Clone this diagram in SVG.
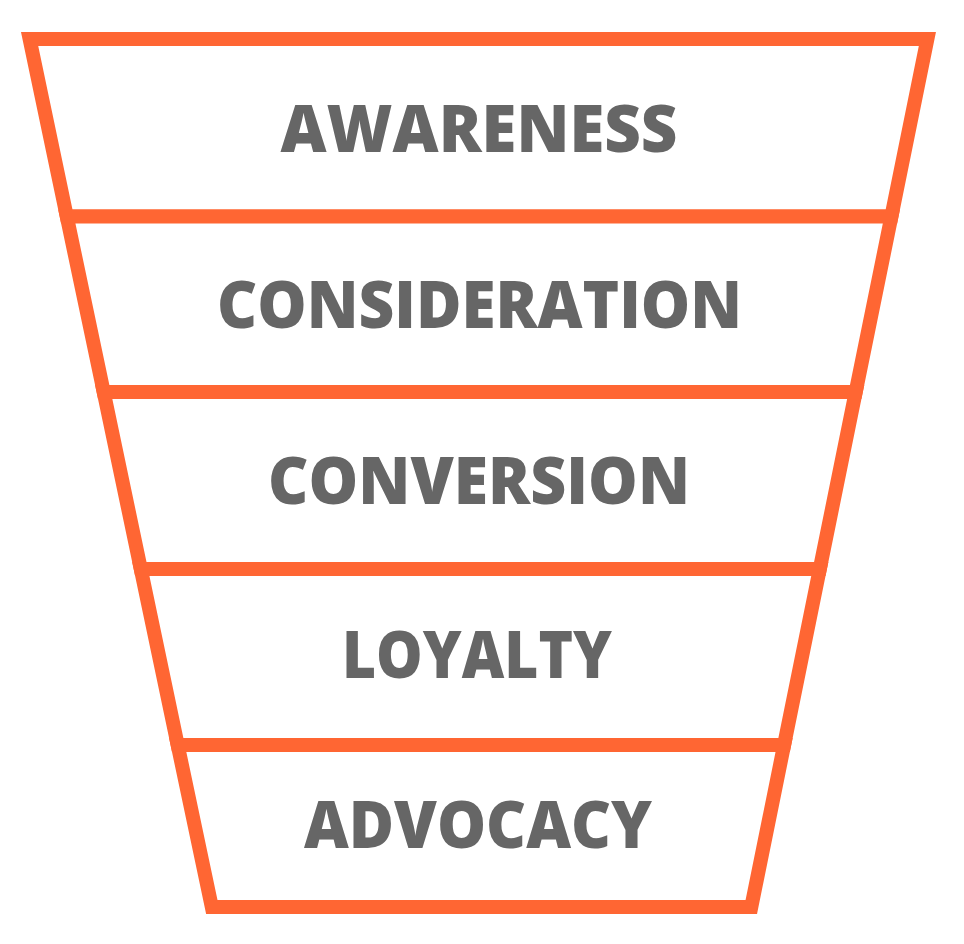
<svg xmlns="http://www.w3.org/2000/svg" width="964" height="944" viewBox="0 0 964 944">
  <style>
    .band { fill: #ffffff; stroke: #FF6633; stroke-width: 14; stroke-linejoin: miter; }
    .label { font-family: "Open Sans", "Liberation Sans", sans-serif; font-weight: 800; font-size: 66px; fill: #666666; text-anchor: middle; }
  </style>
  <rect width="964" height="944" fill="#ffffff"/>
  <g id="connectors"></g>
  <g id="awareness">
    <polygon class="band" points="29.6,39 927.4,39 891.4,216.5 66.8,216.5"/>
    <text class="label" x="479" y="152" textLength="397" lengthAdjust="spacingAndGlyphs">AWARENESS</text>
  </g>
  <g id="consideration">
    <polygon class="band" points="66.8,216.5 891.4,216.5 855.7,392 103.7,392"/>
    <text class="label" x="479.5" y="328" textLength="525" lengthAdjust="spacingAndGlyphs">CONSIDERATION</text>
  </g>
  <g id="conversion">
    <polygon class="band" points="103.7,392 855.7,392 819.8,569 140.8,569"/>
    <text class="label" x="479" y="504" textLength="422" lengthAdjust="spacingAndGlyphs">CONVERSION</text>
  </g>
  <g id="loyalty">
    <polygon class="band" points="140.8,569 819.8,569 784.1,745 177.7,745"/>
    <text class="label" x="477" y="678" textLength="270" lengthAdjust="spacingAndGlyphs">LOYALTY</text>
  </g>
  <g id="advocacy">
    <polygon class="band" points="177.7,745 784.1,745 751.3,907 211.8,907"/>
    <text class="label" x="478" y="848" textLength="348" lengthAdjust="spacingAndGlyphs">ADVOCACY</text>
  </g>
</svg>
